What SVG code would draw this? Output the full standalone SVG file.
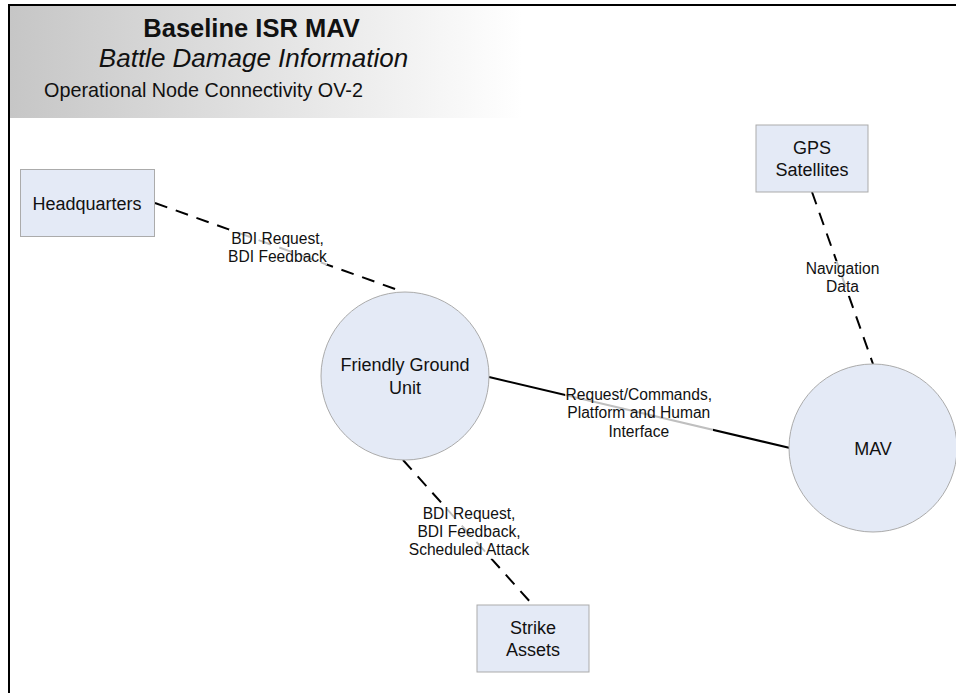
<svg xmlns="http://www.w3.org/2000/svg" width="956" height="693" viewBox="0 0 956 693">
<defs>
<linearGradient id="hdr" x1="0" y1="0" x2="1" y2="0">
<stop offset="0" stop-color="#c6c6c6"/>
<stop offset="1" stop-color="#ffffff"/>
</linearGradient>
<style>
.node{fill:#e4eaf6;stroke:#ababab;stroke-width:1}
.nt{font-family:"Liberation Sans",Arial,sans-serif;font-size:18px;fill:#111;text-anchor:middle}
.et{font-family:"Liberation Sans",Arial,sans-serif;font-size:15.6px;fill:#111;text-anchor:middle}
.dash{fill:none;stroke:#000;stroke-width:2;stroke-dasharray:13 9}
.solid{fill:none;stroke:#000;stroke-width:2}
.lbg{fill:#fff;fill-opacity:0.75}
</style>
</defs>
<rect x="0" y="0" width="956" height="693" fill="#fff"/>
<g id="header">
<rect x="10" y="5" width="512" height="113" fill="url(#hdr)"/>
<text x="251.5" y="36.5" font-family="'Liberation Sans',Arial,sans-serif" font-size="25.5" font-weight="bold" text-anchor="middle" fill="#111">Baseline ISR MAV</text>
<text x="253.5" y="66.5" font-family="'Liberation Sans',Arial,sans-serif" font-size="26" font-style="italic" text-anchor="middle" fill="#111">Battle Damage Information</text>
<text x="203.5" y="96.5" font-family="'Liberation Sans',Arial,sans-serif" font-size="19.8" text-anchor="middle" fill="#111">Operational Node Connectivity OV-2</text>
</g>
<path d="M9,693 V5 H956" fill="none" stroke="#000" stroke-width="2"/>
<g id="connectors">
<line class="dash" x1="155" y1="203" x2="398" y2="290"/>
<line class="dash" x1="812" y1="192" x2="873" y2="364"/>
<line class="solid" x1="489" y1="377" x2="790" y2="448"/>
<line class="dash" x1="403" y1="460" x2="532" y2="604"/>
<g id="label-hq">
<rect class="lbg" x="229" y="229" width="98" height="36"/>
<text class="et" x="277.5" y="244">BDI Request,</text>
<text class="et" x="277.5" y="262">BDI Feedback</text>
</g>
<g id="label-gps">
<rect class="lbg" x="805" y="261" width="75" height="35"/>
<text class="et" x="842.5" y="274">Navigation</text>
<text class="et" x="842.5" y="292">Data</text>
</g>
<g id="label-mav">
<rect class="lbg" x="565" y="386" width="148" height="54"/>
<text class="et" x="638.8" y="400">Request/Commands,</text>
<text class="et" x="638.8" y="418">Platform and Human</text>
<text class="et" x="638.8" y="436.5">Interface</text>
</g>
<g id="label-strike">
<rect class="lbg" x="420" y="504" width="98" height="55"/>
<text class="et" x="469" y="518.5">BDI Request,</text>
<text class="et" x="469" y="536.5">BDI Feedback,</text>
<text class="et" x="469" y="555">Scheduled Attack</text>
</g>
</g>
<g id="headquarters">
<rect class="node" x="20.5" y="169.5" width="134" height="67"/>
<text class="nt" x="87" y="210">Headquarters</text>
</g>
<g id="gps-satellites">
<rect class="node" x="756" y="125" width="112" height="67"/>
<text class="nt" x="812" y="153.5">GPS</text>
<text class="nt" x="812" y="175.5">Satellites</text>
</g>
<g id="friendly-ground-unit">
<circle class="node" cx="405" cy="376" r="84"/>
<text class="nt" x="405" y="371">Friendly Ground</text>
<text class="nt" x="405" y="393.5">Unit</text>
</g>
<g id="mav">
<circle class="node" cx="873" cy="448" r="84"/>
<text class="nt" x="873" y="455">MAV</text>
</g>
<g id="strike-assets">
<rect class="node" x="477" y="605" width="112" height="67"/>
<text class="nt" x="533" y="633.5">Strike</text>
<text class="nt" x="533" y="655.5">Assets</text>
</g>
</svg>
